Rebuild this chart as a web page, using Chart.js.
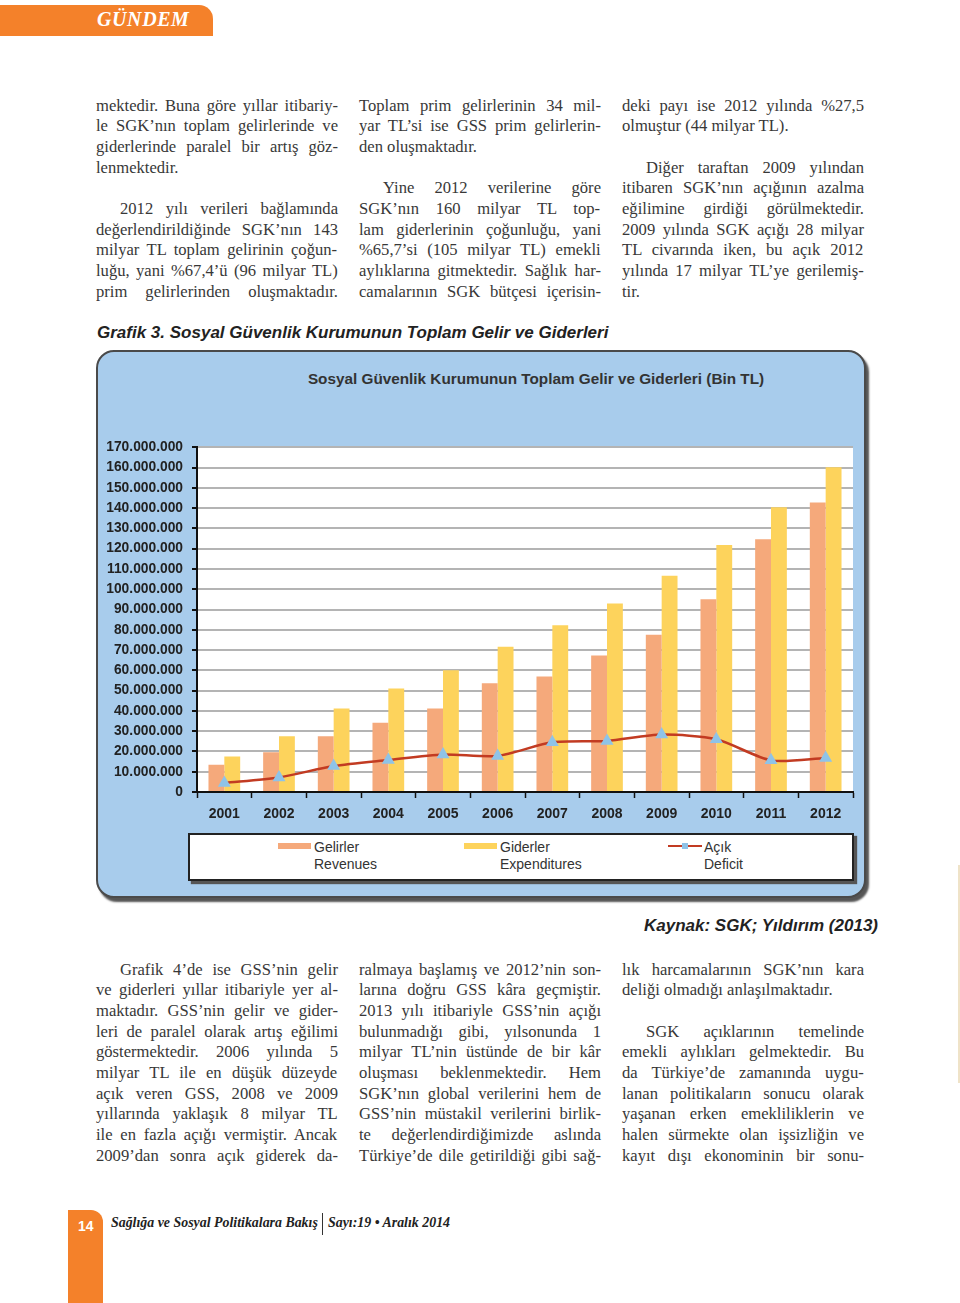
<!DOCTYPE html>
<html lang="tr">
<head>
<meta charset="utf-8">
<title>Grafik 3 - SGK Toplam Gelir ve Giderleri</title>
<script src="https://cdn.jsdelivr.net/npm/chart.js@4.4.1/dist/chart.umd.min.js"></script>
<style>
    html, body { margin: 0; padding: 0; background: #fff; }
    body { width: 960px; height: 1303px; position: relative; overflow: hidden; font-family: "Liberation Serif", serif; color: #383838; }
    .tab { position: absolute; left: 0; top: 5px; width: 213px; height: 31px; background: #f4812a; border-top-right-radius: 14px; }
    .tab span { position: absolute; left: 97px; top: 3px; font: italic bold 20px "Liberation Serif", serif; color: #fff; letter-spacing: 0.6px; }
    .line { position: absolute; height: 21px; line-height: 21px; font-size: 16.6px; white-space: nowrap; }
    .caption { position: absolute; font: italic bold 17px "Liberation Sans", Arial, sans-serif; color: #222; white-space: nowrap; }
    .panel { position: absolute; left: 96px; top: 350px; width: 766px; height: 544px; background: #a8ccec; border: 2px solid #4a4a4a; border-radius: 18px; box-shadow: 3px 4px 2px #555; }
    .panel-title { position: absolute; left: 536px; top: 370px; transform: translateX(-50%); font: bold 15.3px "Liberation Sans", Arial, sans-serif; color: #333; white-space: nowrap; }
    #chart { position: absolute; left: 96px; top: 430px; }
    .legend { position: absolute; left: 188px; top: 833px; width: 662px; height: 44px; background: #fff; border: 2px solid #222; box-shadow: 3px 3px 1px #555; }
    .legend-item { position: absolute; top: 4px; font: 14px "Liberation Sans", Arial, sans-serif; color: #333; line-height: 17px; }
    .legend-swatch { position: absolute; top: 8px; height: 6px; width: 33px; }
    .legend-linekey { position: absolute; top: 10px; height: 2px; width: 34px; }
    .legend-linekey i { position: absolute; left: 14px; top: -2px; width: 6px; height: 6px; background: #8fc3e8; }
    .foot-tab { position: absolute; left: 68px; top: 1210px; width: 35px; height: 100px; background: #f4812a; border-top-right-radius: 12px; }
    .foot-tab span { position: absolute; left: 10px; top: 8px; font: bold 14px "Liberation Sans", Arial, sans-serif; color: #fff; }
    .foot { position: absolute; top: 1215px; font: italic bold 13.9px "Liberation Serif", serif; color: #222; white-space: nowrap; }
    .foot-sep { position: absolute; left: 322px; top: 1213px; width: 1px; height: 22px; background: #333; }
    .edge { position: absolute; left: 958px; top: 865px; width: 2px; height: 218px; background: #efe3c8; }
</style>
</head>
<body>

<div class="tab"><span>GÜNDEM</span></div>

<div class="caption" style="left:97px; top:323px;">Grafik 3. Sosyal Güvenlik Kurumunun Toplam Gelir ve Giderleri</div>

<div class="panel"></div>
<div class="panel-title">Sosyal Güvenlik Kurumunun Toplam Gelir ve Giderleri (Bin TL)</div>
<canvas id="chart" width="770" height="395"></canvas>
<div class="legend" id="legend"></div>

<div class="caption" style="left:644px; top:916px;">Kaynak: SGK; Yıldırım (2013)</div>

<div class="edge"></div>

<div class="foot-tab"><span>14</span></div>
<div class="foot" style="left:111px;">Sağlığa ve Sosyal Politikalara Bakış</div>
<div class="foot-sep"></div>
<div class="foot" style="left:328px;">Sayı:19 • Aralık 2014</div>

<script>
// ==========================================================
// VERİLER (Bin TL)
// ==========================================================

const years = ['2001', '2002', '2003', '2004', '2005', '2006', '2007', '2008', '2009', '2010', '2011', '2012'];

const revenues     = [13400000, 19600000, 27500000, 34200000, 41200000, 53600000, 56900000, 67300000, 77500000, 95100000, 124700000, 142800000];
const expenditures = [17500000, 27500000, 41200000, 51000000, 60100000, 71600000, 82200000, 93000000, 106600000, 121800000, 140400000, 160100000];
const deficit      = [4500000, 7200000, 12800000, 15800000, 18500000, 17800000, 24500000, 25200000, 28300000, 26000000, 15600000, 16800000];

const seriesNamesTr = ['Gelirler', 'Giderler', 'Açık'];
const seriesNamesEn = ['Revenues', 'Expenditures', 'Deficit'];

const yMax = 170000000;
const yStep = 10000000;

const seriesColors = ['#f5a97b', '#fdd35c', '#c23b22'];

// ==========================================================
// METİN SÜTUNLARI
// '>' ile başlayan satır girintili, '|' ile biten satır paragraf sonu
// ==========================================================

const topColumns = [
    [
        'mektedir. Buna göre yıllar itibariy-',
        'le SGK’nın toplam gelirlerinde ve',
        'giderlerinde paralel bir artış göz-',
        'lenmektedir.|',
        '',
        '>2012 yılı verileri bağlamında',
        'değerlendirildiğinde SGK’nın 143',
        'milyar TL toplam gelirinin çoğun-',
        'luğu, yani %67,4’ü (96 milyar TL)',
        'prim gelirlerinden oluşmaktadır.'
    ],
    [
        'Toplam prim gelirlerinin 34 mil-',
        'yar TL’si ise GSS prim gelirlerin-',
        'den oluşmaktadır.|',
        '',
        '>Yine 2012 verilerine göre',
        'SGK’nın 160 milyar TL top-',
        'lam giderlerinin çoğunluğu, yani',
        '%65,7’si (105 milyar TL) emekli',
        'aylıklarına gitmektedir. Sağlık har-',
        'camalarının SGK bütçesi içerisin-'
    ],
    [
        'deki payı ise 2012 yılında %27,5',
        'olmuştur (44 milyar TL).|',
        '',
        '>Diğer taraftan 2009 yılından',
        'itibaren SGK’nın açığının azalma',
        'eğilimine girdiği görülmektedir.',
        '2009 yılında SGK açığı 28 milyar',
        'TL civarında iken, bu açık 2012',
        'yılında 17 milyar TL’ye gerilemiş-',
        'tir.|'
    ]
];

const bottomColumns = [
    [
        '>Grafik 4’de ise GSS’nin gelir',
        've giderleri yıllar itibariyle yer al-',
        'maktadır. GSS’nin gelir ve gider-',
        'leri de paralel olarak artış eğilimi',
        'göstermektedir. 2006 yılında 5',
        'milyar TL ile en düşük düzeyde',
        'açık veren GSS, 2008 ve 2009',
        'yıllarında yaklaşık 8 milyar TL',
        'ile en fazla açığı vermiştir. Ancak',
        '2009’dan sonra açık giderek da-'
    ],
    [
        'ralmaya başlamış ve 2012’nin son-',
        'larına doğru GSS kâra geçmiştir.',
        '2013 yılı itibariyle GSS’nin açığı',
        'bulunmadığı gibi, yılsonunda 1',
        'milyar TL’nin üstünde de bir kâr',
        'oluşması beklenmektedir. Hem',
        'SGK’nın global verilerini hem de',
        'GSS’nin müstakil verilerini birlik-',
        'te değerlendirdiğimizde aslında',
        'Türkiye’de dile getirildiği gibi sağ-'
    ],
    [
        'lık harcamalarının SGK’nın kara',
        'deliği olmadığı anlaşılmaktadır.|',
        '',
        '>SGK açıklarının temelinde',
        'emekli aylıkları gelmektedir. Bu',
        'da Türkiye’de zamanında uygu-',
        'lanan politikaların sonucu olarak',
        'yaşanan erken emekliliklerin ve',
        'halen sürmekte olan işsizliğin ve',
        'kayıt dışı ekonominin bir sonu-'
    ]
];

const columnX = [96, 359, 622];
const columnWidth = 242;
const lineStep = 20.67;
const indent = 24;
const bodyFont = '16.6px "Liberation Serif"';

function renderColumns(columns, firstLineCenter) {
    const measure = document.createElement('canvas').getContext('2d');
    measure.font = bodyFont;
    columns.forEach((lines, c) => {
        lines.forEach((raw, i) => {
            if (!raw) return;
            let text = raw;
            let left = columnX[c];
            let width = columnWidth;
            let last = false;
            if (text.startsWith('>')) { text = text.slice(1); left += indent; width -= indent; }
            if (text.endsWith('|')) { text = text.slice(0, -1); last = true; }
            const el = document.createElement('div');
            el.className = 'line';
            el.textContent = text;
            el.style.left = left + 'px';
            el.style.top = (firstLineCenter + i * lineStep - 10.5) + 'px';
            // satırı iki yana yasla
            const w = measure.measureText(text).width;
            const spaces = (text.match(/ /g) || []).length;
            if (w > width) {
                el.style.letterSpacing = ((width - w) / text.length) + 'px';
            } else if (!last && spaces > 0) {
                el.style.wordSpacing = ((width - w) / spaces) + 'px';
            }
            document.body.appendChild(el);
        });
    });
}

renderColumns(topColumns, 105);
renderColumns(bottomColumns, 969);

// ==========================================================
// LEJANT
// ==========================================================

function renderLegend() {
    const box = document.getElementById('legend');
    const keyX = [88, 274, 478];
    seriesNamesTr.forEach((name, i) => {
        const key = document.createElement('div');
        if (i < 2) {
            key.className = 'legend-swatch';
            key.style.background = seriesColors[i];
        } else {
            key.className = 'legend-linekey';
            key.style.background = seriesColors[i];
            key.appendChild(document.createElement('i'));
        }
        key.style.left = keyX[i] + 'px';
        box.appendChild(key);

        const label = document.createElement('div');
        label.className = 'legend-item';
        label.style.left = (keyX[i] + 36) + 'px';
        label.innerHTML = name + '<br>' + seriesNamesEn[i];
        box.appendChild(label);
    });
}

renderLegend();

// ==========================================================
// GRAFİK
// ==========================================================

function formatThousands(value) {
    return String(value).replace(/\B(?=(\d{3})+(?!\d))/g, '.');
}

const plotBackground = {
    id: 'plotBackground',
    beforeDraw(chart) {
        const a = chart.chartArea;
        const ctx = chart.ctx;
        ctx.save();
        ctx.fillStyle = '#ffffff';
        ctx.fillRect(a.left, a.top, a.right - a.left, a.bottom - a.top);
        ctx.restore();
    }
};

const tickFont = { family: '"Liberation Sans", Arial, sans-serif', weight: 'bold', size: 13.8 };

new Chart(document.getElementById('chart').getContext('2d'), {
    type: 'bar',
    data: {
        labels: years,
        datasets: [
            {
                label: seriesNamesTr[0],
                data: revenues,
                backgroundColor: seriesColors[0],
                categoryPercentage: 0.58,
                barPercentage: 1.0,
                order: 2
            },
            {
                label: seriesNamesTr[1],
                data: expenditures,
                backgroundColor: seriesColors[1],
                categoryPercentage: 0.58,
                barPercentage: 1.0,
                order: 2
            },
            {
                type: 'line',
                label: seriesNamesTr[2],
                data: deficit,
                borderColor: seriesColors[2],
                borderWidth: 2.5,
                tension: 0.25,
                pointStyle: 'triangle',
                pointRadius: 5,
                pointBackgroundColor: '#8fc3e8',
                pointBorderColor: '#8fc3e8',
                order: 1
            }
        ]
    },
    options: {
        responsive: false,
        animation: false,
        devicePixelRatio: 1,
        layout: { padding: { left: 0, right: 13, top: 12, bottom: 0 } },
        plugins: {
            legend: { display: false },
            title: { display: false },
            tooltip: { enabled: false }
        },
        scales: {
            x: {
                grid: { display: true, drawOnChartArea: false, drawTicks: true, tickLength: 6, tickColor: '#111', tickWidth: 1.5 },
                border: { color: '#111', width: 2 },
                ticks: { color: '#222', font: { ...tickFont, size: 14 }, padding: 8 },
                afterFit: scale => { scale.height = 33; }
            },
            y: {
                min: 0,
                max: yMax,
                ticks: { stepSize: yStep, color: '#222', font: tickFont, padding: 9, callback: v => formatThousands(v) },
                grid: { color: '#b4b4b4', lineWidth: 2, tickColor: '#111', tickLength: 5 },
                border: { color: '#111', width: 2 },
                afterFit: scale => { scale.width = 101; }
            }
        }
    },
    plugins: [plotBackground]
});
</script>
</body>
</html>
